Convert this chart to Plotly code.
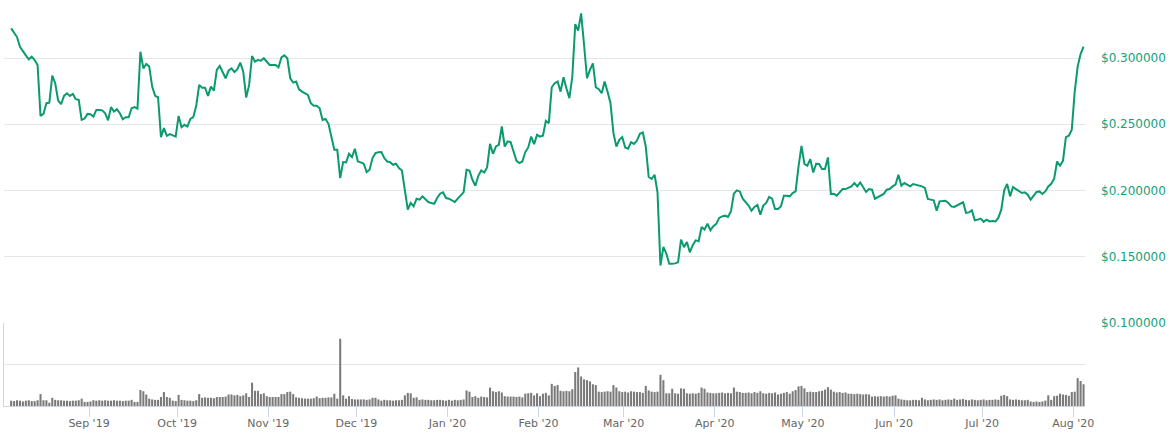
import pandas as pd
import plotly.graph_objects as go

# Daily dates (Aug 5 2019 -> Aug 4 2020), points sit mid-day
dates = pd.date_range("2019-08-05 12:00", periods=366, freq="D")

price = [
    0.3224, 0.3190, 0.3158, 0.3085, 0.3047, 0.3020, 0.2990, 0.3010, 0.2985, 0.2947,
    0.2563, 0.2578, 0.2659, 0.2663, 0.2867, 0.2810, 0.2679, 0.2651, 0.2714, 0.2734,
    0.2714, 0.2729, 0.2689, 0.2684, 0.2533, 0.2543, 0.2578, 0.2575, 0.2558, 0.2608,
    0.2608, 0.2605, 0.2583, 0.2530, 0.2629, 0.2596, 0.2614, 0.2583, 0.2538, 0.2553,
    0.2553, 0.2621, 0.2629, 0.2618, 0.3047, 0.2922, 0.2955, 0.2935, 0.2784, 0.2714,
    0.2704, 0.2403, 0.2471, 0.2413, 0.2425, 0.2415, 0.2407, 0.2563, 0.2478, 0.2496,
    0.2483, 0.2540, 0.2553, 0.2639, 0.2797, 0.2776, 0.2776, 0.2714, 0.2784, 0.2754,
    0.2910, 0.2940, 0.2897, 0.2847, 0.2904, 0.2922, 0.2894, 0.2915, 0.2965, 0.2897,
    0.2701, 0.2797, 0.3015, 0.2972, 0.2985, 0.2980, 0.2998, 0.2972, 0.2947, 0.2947,
    0.2947, 0.2930, 0.3005, 0.3020, 0.2998, 0.2847, 0.2814, 0.2822, 0.2764, 0.2746,
    0.2735, 0.2721, 0.2659, 0.2639, 0.2639, 0.2621, 0.2533, 0.2540, 0.2503, 0.2403,
    0.2307, 0.2307, 0.2094, 0.2215, 0.2212, 0.2277, 0.2252, 0.2315, 0.2219, 0.2212,
    0.2202, 0.2139, 0.2157, 0.2245, 0.2282, 0.2288, 0.2290, 0.2245, 0.2219, 0.2214,
    0.2194, 0.2202, 0.2169, 0.2151, 0.1993, 0.1855, 0.1906, 0.1880, 0.1938, 0.1931,
    0.1956, 0.1938, 0.1913, 0.1905, 0.1900, 0.1943, 0.1976, 0.1986, 0.1943, 0.1938,
    0.1923, 0.1913, 0.1938, 0.1963, 0.1986, 0.2157, 0.2151, 0.2081, 0.2036, 0.2111,
    0.2151, 0.2136, 0.2174, 0.2352, 0.2277, 0.2332, 0.2345, 0.2483, 0.2332, 0.2370,
    0.2365, 0.2294, 0.2224, 0.2207, 0.2219, 0.2290, 0.2325, 0.2407, 0.2350, 0.2420,
    0.2407, 0.2413, 0.2526, 0.2508, 0.2779, 0.2810, 0.2822, 0.2746, 0.2855, 0.2772,
    0.2697, 0.2859, 0.3256, 0.3206, 0.3337, 0.3100, 0.2847, 0.2910, 0.2960, 0.2779,
    0.2764, 0.2734, 0.2822, 0.2746, 0.2659, 0.2433, 0.2332, 0.2383, 0.2403, 0.2325,
    0.2315, 0.2365, 0.2352, 0.2377, 0.2428, 0.2438, 0.2332, 0.2102, 0.2087, 0.2119,
    0.1986, 0.1434, 0.1575, 0.1524, 0.1447, 0.1447, 0.1450, 0.1459, 0.1630, 0.1572,
    0.1612, 0.1534, 0.1587, 0.1624, 0.1617, 0.1725, 0.1705, 0.1750, 0.1700, 0.1730,
    0.1748, 0.1793, 0.1805, 0.1810, 0.1800, 0.1843, 0.1976, 0.2001, 0.1993, 0.1938,
    0.1913, 0.1886, 0.1848, 0.1876, 0.1891, 0.1818, 0.1886, 0.1906, 0.1951, 0.1938,
    0.1861, 0.1861, 0.1880, 0.1961, 0.1961, 0.1956, 0.1981, 0.1993, 0.2182, 0.2337,
    0.2200, 0.2187, 0.2237, 0.2136, 0.2202, 0.2200, 0.2162, 0.2162, 0.2250, 0.1974,
    0.1976, 0.1961, 0.1986, 0.2011, 0.2011, 0.2019, 0.2031, 0.2056, 0.2031, 0.2061,
    0.2026, 0.1989, 0.2011, 0.2006, 0.1938, 0.1951, 0.1961, 0.1974, 0.2006, 0.2011,
    0.2031, 0.2044, 0.2119, 0.2036, 0.2056, 0.2045, 0.2031, 0.2049, 0.2044, 0.2038,
    0.2031, 0.2019, 0.1936, 0.1931, 0.1926, 0.1848, 0.1918, 0.1920, 0.1923, 0.1906,
    0.1880, 0.1876, 0.1886, 0.1900, 0.1911, 0.1831, 0.1835, 0.1850, 0.1775, 0.1780,
    0.1788, 0.1763, 0.1780, 0.1767, 0.1770, 0.1767, 0.1793, 0.1855, 0.2001, 0.2049,
    0.1956, 0.2026, 0.2011, 0.1999, 0.1981, 0.1986, 0.1968, 0.1931, 0.1956, 0.1989,
    0.1993, 0.1974, 0.1993, 0.2031, 0.2051, 0.2089, 0.2219, 0.2187, 0.2224, 0.2403,
    0.2413, 0.2458, 0.2746, 0.2935, 0.3030, 0.3085,
]

# Daily volume in billions USD
volume = [
    1.3, 1.2, 1.4, 1.3, 1.1, 1.3, 1.4, 1.2, 1.2, 1.4,
    2.9,
    1.4, 1.4, 0.8,
    2.0,
    1.5, 1.4, 1.4, 1.3, 1.3, 1.2, 1.3, 1.3, 1.4,
    1.8,
    1.0, 1.0, 1.1,
    1.4, 1.3, 1.4, 1.3, 1.4, 1.3, 1.3, 1.4, 1.3, 1.3, 1.2, 1.3, 1.3,
    1.5,
    1.0, 1.0,
    3.9, 3.6, 2.8,
    1.8, 1.6, 1.5, 1.5,
    2.2, 3.4, 2.2, 2.0,
    1.3, 1.2,
    2.7,
    1.5, 1.4, 1.3, 1.3, 1.2, 1.4,
    2.9,
    2.0, 2.1, 2.0, 2.0, 1.9,
    2.2, 2.2, 2.2, 2.3, 2.8,
    2.8, 2.6, 2.7, 2.4, 2.6,
    3.1, 2.2, 5.7, 3.7, 3.7, 2.9, 3.1,
    2.4, 2.2, 2.2, 2.2, 2.2,
    2.9, 2.9, 3.4, 3.5, 2.9,
    2.1, 2.0, 1.9, 1.8, 1.8, 1.8, 1.9, 2.3,
    1.9, 2.0, 2.0, 2.1, 2.1,
    3.0, 1.8, 16.4, 2.6, 1.8, 2.4,
    1.7, 1.6, 1.6, 1.6, 1.6, 1.5, 1.6, 2.0, 2.0, 1.6,
    1.3, 1.5, 1.4, 1.4, 1.3, 1.4, 1.4, 1.5,
    2.6, 3.2, 3.1,
    2.0, 2.1,
    1.5, 1.6, 1.5, 1.5, 1.4, 1.4, 1.5, 1.5, 1.4, 1.3, 1.5, 1.3, 1.5, 1.4, 1.5,
    1.6, 3.8, 3.5,
    2.2, 2.4, 2.0, 2.3, 2.2, 2.1,
    4.5,
    3.6, 3.4, 3.6, 3.3,
    2.4, 2.3, 2.3, 2.3, 2.2, 2.3, 2.1,
    3.0, 3.1, 3.2, 2.6, 3.1,
    2.4,
    3.0, 3.2, 2.6,
    5.4, 4.9, 5.1,
    3.7, 3.6, 3.7, 3.6,
    4.1,
    8.3, 9.4, 7.2, 6.5, 6.3, 6.0, 5.3, 5.1,
    3.5, 3.4, 3.5, 3.6, 3.5,
    5.1, 4.5,
    3.6, 3.4, 3.5, 3.3, 3.6, 3.5, 3.4, 3.4, 3.2,
    4.9, 3.8,
    3.5, 3.4, 3.5,
    7.6, 6.3,
    3.1, 3.1,
    4.2,
    3.1, 3.0,
    4.3, 4.2,
    3.1, 3.0, 3.1, 3.0, 3.2,
    4.5, 4.2,
    3.3, 3.2, 3.1, 3.1, 3.2, 3.3, 3.1, 3.2, 3.1,
    4.5,
    3.5, 3.4, 3.2, 3.2, 3.3, 3.1, 3.4, 3.2,
    3.6, 3.1, 3.0, 3.2, 3.1, 3.3, 2.8, 3.0, 3.2, 3.4, 3.0, 3.6, 3.9,
    4.8, 4.9, 4.3,
    3.4, 3.5, 3.4, 3.4, 3.6, 3.7,
    4.0, 4.6,
    4.0,
    3.5, 3.3, 3.4, 3.2, 3.3,
    3.0, 3.0, 2.9, 3.0, 2.9, 2.8, 2.9, 2.8,
    2.3, 2.4, 2.3, 2.4, 2.3, 2.4, 2.3, 2.5, 2.6,
    1.8, 1.6,
    1.5, 1.4, 1.4, 1.5, 1.5, 1.4, 2.0,
    1.6, 1.4, 1.5, 1.6, 1.5, 1.6, 1.4, 1.5, 1.6, 1.5, 1.8, 1.5, 1.6, 1.7, 1.5, 1.4, 1.6, 1.5, 1.4,
    1.5, 1.6, 1.4, 1.5, 1.5, 1.6, 1.5,
    2.5, 2.7, 2.4,
    1.6, 1.5, 1.6, 1.5, 1.4, 1.4, 1.5,
    1.1, 1.0, 1.1, 1.0, 1.1, 1.3,
    2.6, 1.5,
    2.4, 2.5, 3.0, 2.8,
    2.7, 2.5, 3.4, 3.5,
    6.8, 6.1, 5.3,
]

price_ticks = [0.10, 0.15, 0.20, 0.25, 0.30]
price_tick_labels = [f"${v:.6f}" for v in price_ticks]

assert len(price) == len(dates), len(price)
assert len(volume) == len(dates), len(volume)

LINE = "#0b9a6e"
FONT = "DejaVu Sans"

fig = go.Figure()
fig.add_trace(go.Bar(
    x=dates, y=volume, yaxis="y", xaxis="x",
    marker=dict(color="#7a7a7a", line=dict(width=0)),
    hoverinfo="skip", showlegend=False,
))
fig.add_trace(go.Scatter(
    x=dates, y=price, yaxis="y2", xaxis="x", mode="lines",
    line=dict(color=LINE, width=2), showlegend=False,
))

vol_top = 83 / 406

fig.update_layout(
    width=1176, height=436,
    margin=dict(l=4, r=91, t=0, b=30),
    paper_bgcolor="white", plot_bgcolor="white",
    bargap=0.3,
    font=dict(family=FONT, size=11, color="#666666"),
    xaxis=dict(
        type="date", anchor="y",
        range=["2019-08-03 01:40", "2020-08-05 00:00"],
        tick0="2019-09-01", dtick="M1", tickformat="%b '%y",
        ticks="outside", ticklen=10, tickwidth=1, tickcolor="#ccd6eb",
        showline=True, linecolor="#ccd6eb", linewidth=1,
        showgrid=False, zeroline=False,
        ticklabelstandoff=-3,
        tickfont=dict(family=FONT, size=11, color="#666666"),
    ),
    yaxis=dict(
        domain=[0, vol_top], range=[0, 20.24],
        tickvals=[10, 20.24], showticklabels=False,
        showgrid=True, gridcolor="#e6e6e6", gridwidth=1,
        showline=True, linecolor="#ccd6eb", linewidth=1, side="left",
        zeroline=False, ticks="",
    ),
    yaxis2=dict(
        domain=[vol_top, 1], range=[0.1, 0.34377], anchor="x", side="right",
        tickmode="array", tickvals=price_ticks, ticktext=price_tick_labels,
        showgrid=True, gridcolor="#e6e6e6", gridwidth=1,
        zeroline=False, showline=False, ticks="",
        ticklabelstandoff=15,
        tickfont=dict(family=FONT, size=12, color="#16a07a"),
    ),
)

fig.write_html("out.html")
